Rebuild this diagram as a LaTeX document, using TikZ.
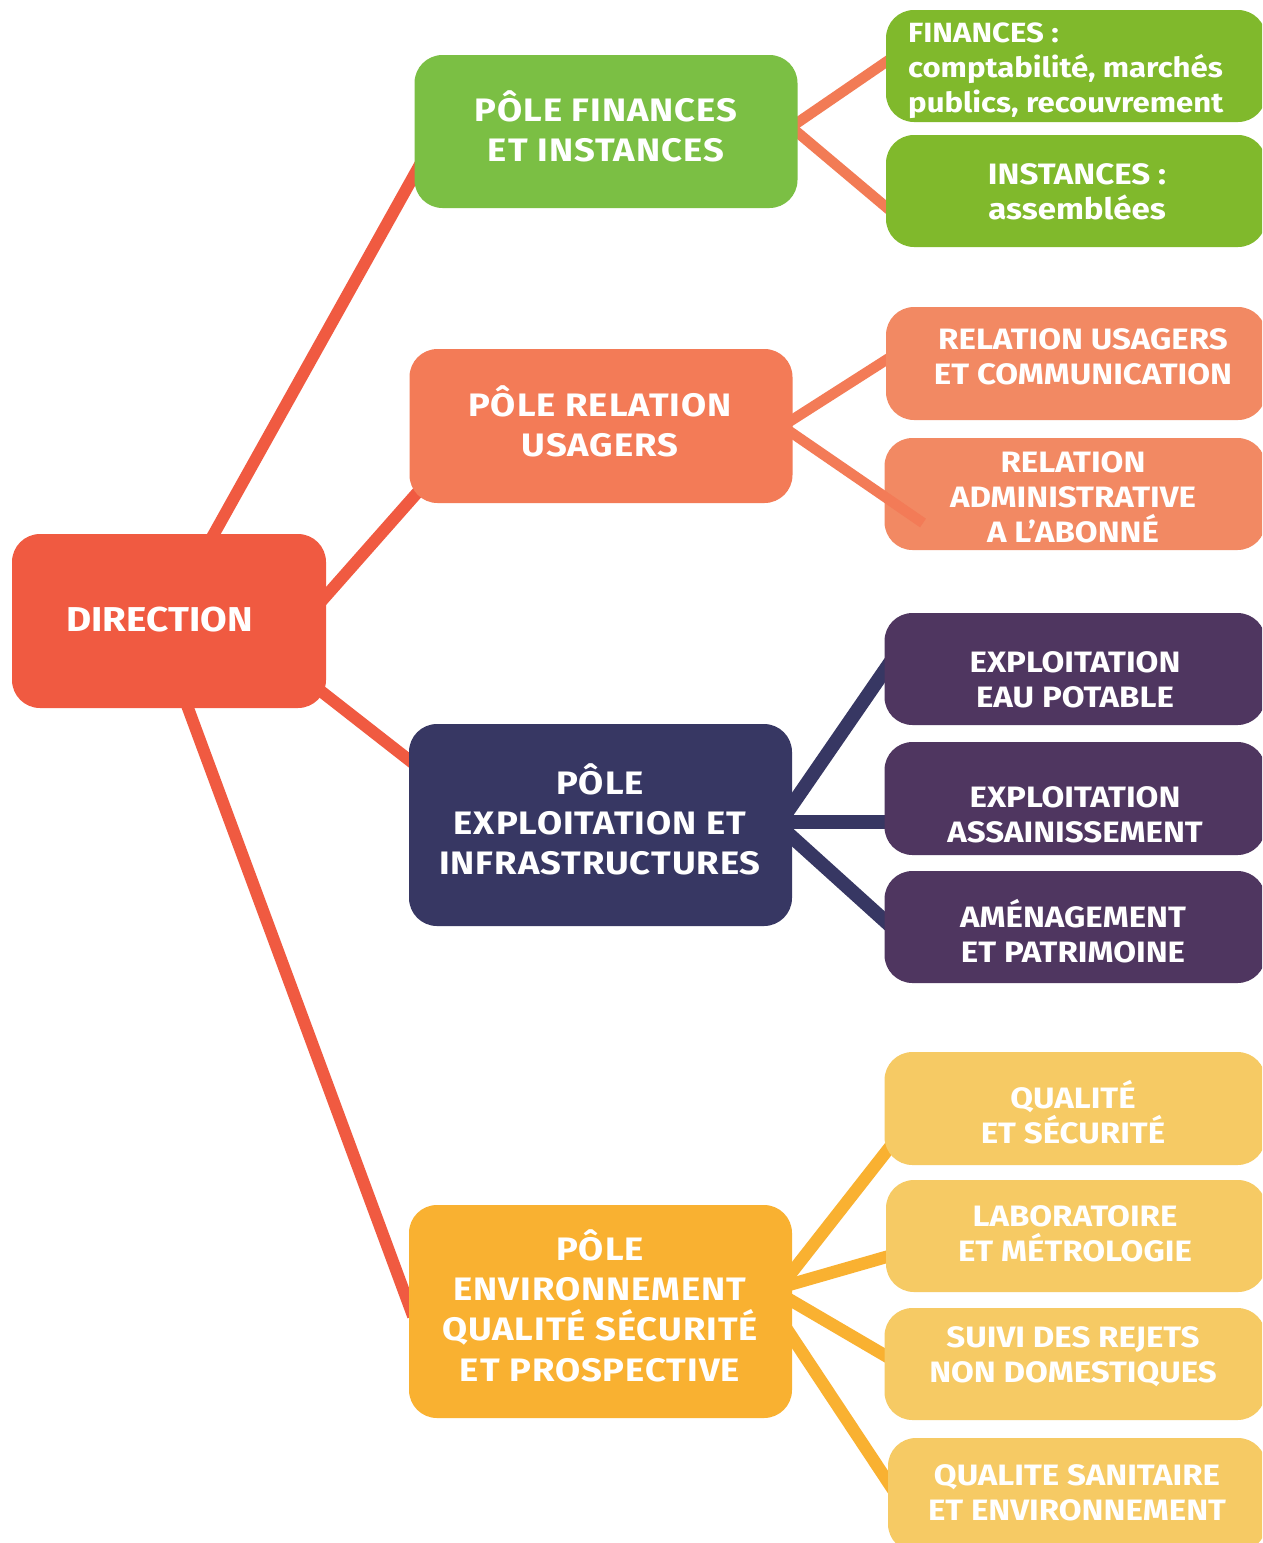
\documentclass[tikz,border=0pt]{standalone}
\usepackage{fontspec}
\setmainfont{Fira Sans}[FakeStretch=1.12]
\newfontfamily\polefont{Fira Sans}[FakeStretch=1.12,LetterSpace=3]
\usetikzlibrary{calc,backgrounds}

\definecolor{dirred}{HTML}{F05A41}
\definecolor{finpole}{HTML}{7BBF44}
\definecolor{finsub}{HTML}{80B92C}
\definecolor{finlink}{HTML}{F27B55}
\definecolor{relpole}{HTML}{F37B57}
\definecolor{relsub}{HTML}{F28963}
\definecolor{expole}{HTML}{373763}
\definecolor{exsub}{HTML}{4F3660}
\definecolor{envpole}{HTML}{F9B131}
\definecolor{envsub}{HTML}{F6CA64}

\tikzset{
  box/.style={rounded corners=28pt, inner sep=0pt, draw=none},
  polebox/.style={box, minimum width=383pt},
  subbox/.style={box, minimum width=381pt, minimum height=112pt},
  txt/.style={text=white, align=center, inner sep=0pt,
    font=\bfseries\fontsize{29.5}{35}\selectfont},
  poletxt/.style={txt, font=\polefont\bfseries\fontsize{32.5}{40.3}\selectfont},
  link/.style={line width=#1, shorten <=-12pt, shorten >=-12pt},
  link/.default=12pt
}

\begin{document}
\begin{tikzpicture}[x=1pt,y=-1pt]
\path[use as bounding box, clip] (0,0) rectangle (1262,1543);

% --- direction and the four poles
\node[box, fill=dirred, minimum width=314pt, minimum height=174pt] (dir) at (169,621) {};
\node[polebox, fill=finpole, minimum height=153pt] (pf) at (606,131.5) {};
\node[polebox, fill=relpole, minimum height=154pt] (pr) at (601,426) {};
\node[polebox, fill=expole, minimum height=202pt] (pe) at (600.5,825) {};
\node[polebox, fill=envpole, minimum height=213pt] (pq) at (600.5,1311.5) {};

% --- services
\node[subbox, fill=finsub, minimum width=380pt] (s1) at (1076,66) {};
\node[subbox, fill=finsub, minimum width=380pt] (s2) at (1076,191) {};
\node[subbox, fill=relsub, minimum width=380pt, minimum height=113pt] (s3) at (1076,363.5) {};
\node[subbox, fill=relsub] (s4) at (1075,494) {};
\node[subbox, fill=exsub] (s5) at (1075,669) {};
\node[subbox, fill=exsub, minimum height=113pt] (s6) at (1075,798.5) {};
\node[subbox, fill=exsub] (s7) at (1075,927) {};
\node[subbox, fill=envsub, minimum height=113pt] (s8) at (1075,1108.5) {};
\node[subbox, fill=envsub, minimum width=380pt] (s9) at (1076,1236) {};
\node[subbox, fill=envsub] (s10) at (1075,1364) {};
\node[subbox, fill=envsub, minimum width=378pt, minimum height=114pt] (s11) at (1077,1495) {};

% --- white page and connectors, behind the boxes
\begin{scope}[on background layer]
  \fill[white] (0,0) rectangle (1262,1543);

  \draw[link, dirred] ($(dir)+(46,-89)$) -- ($(pf)+(-189,38.5)$);
  \draw[link, dirred] ($(dir)+(157,-25)$) -- ($(pr)+(-184,67)$);
  \draw[link, dirred] ($(dir)+(153,71)$) -- ($(pe)+(-191.5,-65)$);
  \draw[link, dirred] ($(dir)+(19,87)$) -- ($(pq)+(-191.5,-6.5)$);

  \draw[link=10.5pt, finlink] ($(pf)+(191,-8.5)$) -- ($(s1)+(-190,-4)$);
  \draw[link=10.5pt, finlink] ($(pf)+(191,0.5)$) -- ($(s2)+(-190,16)$);
  \draw[link=10.5pt, relpole] ($(pr)+(191,-6)$) -- ($(s3)+(-190,-3.5)$);

  \draw[link=14pt, expole] ($(pe)+(191.5,-20)$) -- ($(s5)+(-190,1)$);
  \draw[link=14pt, expole] ($(pe)+(191.5,-3)$) -- ($(s6)+(-190,23.5)$);
  \draw[link=14pt, expole] ($(pe)+(191.5,12)$) -- ($(s7)+(-190,-6)$);

  \draw[link=12.5pt, envpole] ($(pq)+(191.5,-39.5)$) -- ($(s8)+(-189,43.5)$);
  \draw[link=12.5pt, envpole] ($(pq)+(191.5,-27.5)$) -- ($(s9)+(-190,21)$);
  \draw[link=12.5pt, envpole] ($(pq)+(191.5,-10.5)$) -- ($(s10)+(-189,-8)$);
  \draw[link=12.5pt, envpole] ($(pq)+(191.5,25.5)$) -- ($(s11)+(-189,-13)$);
\end{scope}

% this one runs over the box it points to and stops inside it
\coordinate (r2end) at ($(s4)+(-152,29)$);
\draw[line width=10.5pt, relpole, shorten <=-12pt] ($(pr)+(191,7)$) -- (r2end);

% --- labels
\node[txt, font=\bfseries\fontsize{34.5}{40.5}\selectfont] (dirt) at (159.5,620) {DIRECTION};
\node[poletxt] (pft) at (606,126.5) {PÔLE FINANCES\\ET INSTANCES};
\node[poletxt] (prt) at (600,421.5) {PÔLE RELATION\\USAGERS};
\node[poletxt] (pet) at (600,819.5) {PÔLE\\EXPLOITATION ET\\INFRASTRUCTURES};
\node[poletxt] (pqt) at (600,1305.5) {PÔLE\\ENVIRONNEMENT\\QUALITÉ SÉCURITÉ\\ET PROSPECTIVE};

\node[txt, align=left, anchor=west, font=\bfseries\fontsize{27.8}{35}\selectfont] (s1t) at (908,71)
  {FINANCES :\\comptabilité, marchés\\publics, recouvrement};
\node[txt] (s2t) at (1077,191.5) {INSTANCES :\\assemblées};
\node[txt] (s3t) at (1083,357) {RELATION USAGERS\\ET COMMUNICATION};
\node[txt] (s4t) at (1073,497) {RELATION\\ADMINISTRATIVE\\A L’ABONNÉ};
\node[txt] (s5t) at (1075,679.5) {EXPLOITATION\\EAU POTABLE};
\node[txt] (s6t) at (1075,814.5) {EXPLOITATION\\ASSAINISSEMENT};
\node[txt] (s7t) at (1073,931.5) {AMÉNAGEMENT\\ET PATRIMOINE};
\node[txt] (s8t) at (1073,1112.5) {QUALITÉ\\ET SÉCURITÉ};
\node[txt] (s9t) at (1075,1234) {LABORATOIRE\\ET MÉTROLOGIE};
\node[txt] (s10t) at (1073,1357) {SUIVI DES REJETS\\NON DOMESTIQUES};
\node[txt] (s11t) at (1077,1493) {QUALITE SANITAIRE\\ET ENVIRONNEMENT};
\end{tikzpicture}
\end{document}
